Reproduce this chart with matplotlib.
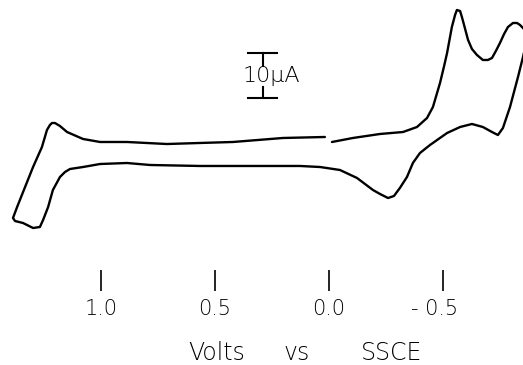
import matplotlib
matplotlib.use('Agg')
import matplotlib.pyplot as plt
import matplotlib.transforms as mtransforms

# cyclic voltammogram, potential in V vs SSCE, current in uA (cathodic up)
POTENTIAL = [
    -0.013, -0.105, -0.224, -0.325, -0.386, -0.430, -0.456, -0.487, -0.504, -0.518,
    -0.539, -0.553, -0.561, -0.575, -0.583, -0.596, -0.610, -0.627, -0.649, -0.675,
    -0.697, -0.715, -0.732, -0.750, -0.768, -0.785, -0.807, -0.825, -0.838, -0.855,
    -0.868,
    -0.860, -0.851, -0.829, -0.794, -0.763, -0.741, -0.715, -0.675, -0.627, -0.575,
    -0.518, -0.443, -0.399, -0.368, -0.342, -0.311, -0.285, -0.259, -0.224, -0.193,
    -0.123, -0.048, 0.039, 0.127, 0.346, 0.566, 0.785, 0.886, 1.004, 1.079,
    1.136, 1.158, 1.180, 1.211, 1.232, 1.254, 1.268, 1.298, 1.342, 1.377,
    1.386, 1.368, 1.333, 1.298, 1.259, 1.237, 1.224, 1.215, 1.202, 1.180,
    1.149, 1.079, 1.004, 0.886, 0.711, 0.566, 0.421, 0.202, 0.018,
]
CURRENT = [
    2.89, 3.78, 4.67, 5.11, 6.22, 8.22, 10.67, 16.0, 19.56, 22.67,
    28.44, 31.11, 32.22, 32.0, 30.67, 28.22, 25.56, 23.56, 22.22, 21.11,
    21.11, 21.56, 23.11, 24.89, 26.89, 28.44, 29.33, 29.33, 28.89, 28.0,
    26.0,
    23.78, 21.78, 17.33, 10.67, 6.0, 4.44, 5.11, 6.22, 6.89, 6.22,
    4.89, 2.22, 0.44, -1.78, -4.89, -7.33, -9.11, -9.56, -8.67, -7.78,
    -5.11, -3.33, -2.67, -2.44, -2.44, -2.44, -2.22, -1.78, -2.0, -2.67,
    -3.11, -3.78, -4.89, -7.78, -11.56, -14.44, -16.0, -16.22, -15.11, -14.67,
    -14.0, -11.56, -7.11, -2.67, 1.78, 5.56, 6.67, 7.11, 7.11, 6.44,
    5.11, 3.56, 2.89, 2.89, 2.44, 2.67, 2.89, 3.78, 4.0,
]

TICKS = [1.0, 0.5, 0.0, -0.5]
TICK_LABELS = ['1.0', '0.5', '0.0', '- 0.5']
XLABEL_WORDS = ['Volts', 'vs', 'SSCE']

# scale bar
SCALE_V = 0.29
SCALE_TOP = 22.6
SCALE_UA = 10
SCALE_LABEL = '10\u00b5A'

plt.rcParams['font.family'] = ['DejaVu Sans']

fig = plt.figure(figsize=(5.23, 3.65), dpi=100)
ax = fig.add_axes([0, 115 / 365, 1, 250 / 365])
ax.set_xlim(1.443, -0.851)
ax.set_ylim(-21.11, 34.44)

ax.plot(POTENTIAL, CURRENT, color='black', lw=1.7,
        solid_joinstyle='round', solid_capstyle='round', clip_on=False)

# scale bar with label sitting across it
half = 0.064
gap_top, gap_bot = SCALE_TOP - 2.9, SCALE_TOP - SCALE_UA + 2.4
bar_kw = dict(color='black', lw=1.5)
ax.plot([SCALE_V + half, SCALE_V - half], [SCALE_TOP, SCALE_TOP], **bar_kw)
ax.plot([SCALE_V + half, SCALE_V - half], [SCALE_TOP - SCALE_UA] * 2, **bar_kw)
ax.plot([SCALE_V, SCALE_V], [SCALE_TOP, gap_top], **bar_kw)
ax.plot([SCALE_V, SCALE_V], [gap_bot, SCALE_TOP - SCALE_UA], **bar_kw)
ax.text(0.377, 16.2, SCALE_LABEL, fontsize=16, fontweight='light',
        ha='left', va='baseline')

for s in ['top', 'right', 'left', 'bottom']:
    ax.spines[s].set_visible(False)
ax.spines['bottom'].set_position(('outward', 14.4))
ax.set_yticks([])
ax.set_xticks(TICKS)
ax.set_xticklabels(TICK_LABELS, fontsize=15, fontweight='light')
ax.tick_params(axis='x', direction='out', length=15, width=1.2, pad=6)
shift = mtransforms.ScaledTranslation(-8 / 100, 0, fig.dpi_scale_trans)
lbl = ax.get_xticklabels()[-1]
lbl.set_transform(lbl.get_transform() + shift)

# axis title, words spread out like the original lettering
for word, x in zip(XLABEL_WORDS, [217, 297, 392]):
    fig.text(x / 523, 1 - 360 / 365, word, fontsize=17, fontweight='light',
             ha='center', va='baseline')

fig.savefig('out.png', dpi=100)
